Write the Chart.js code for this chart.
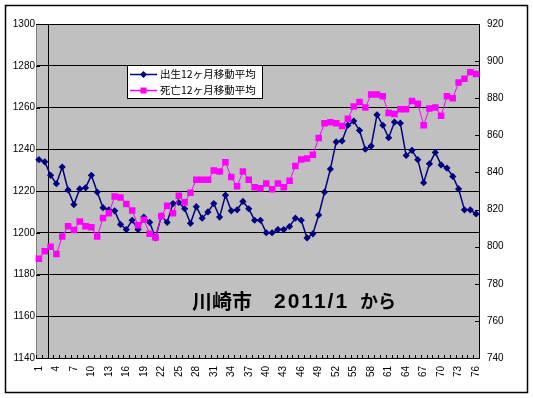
<!DOCTYPE html>
<html><head><meta charset="utf-8">
<script src="https://cdn.jsdelivr.net/npm/chart.js@4"></script>
<style>html,body{margin:0;padding:0;background:#fff}#w{width:533px;height:398px}</style>
</head><body><div id="w"><canvas id="c" width="533" height="398"></canvas></div>
<script>
const categories = ['1','2','3','4','5','6','7','8','9','10','11','12','13','14','15','16','17','18','19','20','21','22','23','24','25','26','27','28','29','30','31','32','33','34','35','36','37','38','39','40','41','42','43','44','45','46','47','48','49','50','51','52','53','54','55','56','57','58','59','60','61','62','63','64','65','66','67','68','69','70','71','72','73','74','75','76'];
const xTickLabels = ['1','4','7','10','13','16','19','22','25','28','31','34','37','40','43','46','49','52','55','58','61','64','67','70','73','76'];
const birthName = '出生12ヶ月移動平均';
const deathName = '死亡12ヶ月移動平均';
const births = [1235,1234,1227.5,1223.5,1231.5,1220.5,1213.5,1221,1221.5,1227.5,1219.5,1212,1211,1210.5,1204,1201.5,1206,1201.5,1207.5,1205,1197.5,1208,1205,1214,1214.5,1211.5,1204.5,1212.5,1207,1210,1214,1207.5,1218,1210.5,1211,1215,1211.5,1206,1206,1200,1200,1201.5,1201.5,1203,1207,1206,1197.5,1199.5,1208.5,1219.5,1230.5,1243.5,1244,1251.5,1253.5,1249,1240,1241.5,1256.5,1251.5,1245.5,1253,1252.5,1237,1239.5,1235,1224,1233,1238.5,1232.5,1231,1227,1221,1211,1211,1209];
const deaths = [793.5,797.5,800,796,805.5,811,809,813.5,811,810.5,805.5,815.5,818,827,826.5,823,819.5,811.5,814.5,807,805,816.5,822,818,827.5,824,829,836,836,836,841,840.5,845.5,837.5,832.5,840.5,836,832,831.5,834,831,834,832,835.5,843.5,847,847.5,849.5,858.5,866.5,867,866.5,865,869,875.5,878,875,882,882,881,872,871.5,874,874,878.5,877,865.5,874.5,875,870.5,881,880,888.5,890.5,894,893];
const leftTicks = {min:1140, max:1300, step:20};
const rightTicks = {min:740, max:920, step:20};
const titleParts = ['川崎市', '2011/1', 'から'];

const NAVY = '#000080', PINK = '#FF00FF';

const decor = {
  id: 'decor',
  beforeDraw(chart) {
    const {ctx, chartArea: a} = chart;
    ctx.save();
    ctx.fillStyle = '#fff';
    ctx.fillRect(0, 0, chart.width, chart.height);
    ctx.strokeStyle = '#000';
    ctx.lineWidth = 1.5;
    ctx.strokeRect(5.5, 5.5, 522, 387);
    ctx.fillStyle = '#C0C0C0';
    ctx.fillRect(a.left, a.top, a.right - a.left, a.bottom - a.top);
    ctx.restore();
  },
  beforeDatasetsDraw(chart) {
    const {ctx, chartArea: a, scales} = chart;
    const xs = scales.x, ys = scales.y, y2 = scales.y2;
    const w = (a.right - a.left) / categories.length;
    ctx.save();
    ctx.strokeStyle = '#000';
    ctx.lineWidth = 1;
    const vx = Math.round(xs.getPixelForValue(2) - w / 2) + 0.5;
    ctx.beginPath(); ctx.moveTo(vx, a.top); ctx.lineTo(vx, a.bottom); ctx.stroke();
    ctx.beginPath();
    for (let i = 0; i <= categories.length; i++) {
      const px = Math.round(a.left + i * w) + 0.5;
      ctx.moveTo(px, a.bottom); ctx.lineTo(px, a.bottom - 3);
    }
    for (let v = leftTicks.min; v <= leftTicks.max; v += leftTicks.step) {
      const py = Math.round(ys.getPixelForValue(v)) + 0.5;
      ctx.moveTo(a.left, py); ctx.lineTo(a.left + 4, py);
    }
    for (let v = rightTicks.min; v <= rightTicks.max; v += rightTicks.step) {
      const py = Math.round(y2.getPixelForValue(v)) + 0.5;
      ctx.moveTo(a.right, py); ctx.lineTo(a.right - 4, py);
    }
    ctx.stroke();
    ctx.restore();
  },
  afterDraw(chart) {
    const {ctx} = chart;
    ctx.save();
    const lx = 127.5, ly = 65.5, lw = 135, lh = 33;
    ctx.fillStyle = '#fff';
    ctx.fillRect(lx, ly, lw, lh);
    ctx.strokeStyle = '#000';
    ctx.lineWidth = 1;
    ctx.strokeRect(lx, ly, lw, lh);
    const ds = chart.data.datasets;
    const rows = [74, 90];
    ds.forEach((d, i) => {
      const y = rows[i] + 0.5;
      ctx.strokeStyle = d.borderColor;
      ctx.lineWidth = 1.5;
      ctx.beginPath(); ctx.moveTo(130, y); ctx.lineTo(157, y); ctx.stroke();
      ctx.fillStyle = d.borderColor;
      ctx.beginPath();
      if (d.pointStyle === 'rectRot') {
        ctx.moveTo(143.5, y - 3.5); ctx.lineTo(147, y); ctx.lineTo(143.5, y + 3.5); ctx.lineTo(140, y); ctx.closePath();
      } else {
        ctx.rect(140.5, y - 3, 6, 6);
      }
      ctx.fill();
      ctx.fillStyle = '#000';
      ctx.font = '10.5px "Noto Sans CJK JP"';
      ctx.textBaseline = 'middle';
      ctx.textAlign = 'left';
      ctx.fillText(d.label, 160, y);
    });
    ctx.fillStyle = '#000';
    ctx.textBaseline = 'middle';
    ctx.textAlign = 'left';
    ctx.font = 'bold 20px "Noto Sans CJK JP"';
    ctx.fillText(titleParts[0], 192, 301);
    ctx.font = 'bold 21px "Liberation Sans"';
    try { ctx.letterSpacing = '2px'; } catch (e) {}
    ctx.fillText(titleParts[1], 274, 302);
    try { ctx.letterSpacing = '0px'; } catch (e) {}
    ctx.font = 'bold 18px "Noto Sans CJK JP"';
    ctx.fillText(titleParts[2], 360, 301);
    ctx.restore();
  }
};

const plainTick = v => String(v);

new Chart(document.getElementById('c'), {
  type: 'line',
  data: {
    labels: categories,
    datasets: [
      {label: birthName, data: births, yAxisID: 'y', borderColor: NAVY, backgroundColor: NAVY,
       borderWidth: 1.5, pointStyle: 'rectRot', pointRadius: 3.6, pointBorderWidth: 0, tension: 0, order: 1},
      {label: deathName, data: deaths, yAxisID: 'y2', borderColor: PINK, backgroundColor: PINK,
       borderWidth: 1, pointStyle: 'rect', pointRadius: 4.6, pointBorderWidth: 0, tension: 0, order: 0}
    ]
  },
  options: {
    responsive: false,
    animation: false,
    events: [],
    layout: {padding: {top: 24, left: 0, right: 0, bottom: 0}},
    plugins: {legend: {display: false}, tooltip: {enabled: false}, title: {display: false}},
    scales: {
      x: {
        type: 'category', offset: true,
        grid: {display: false, drawTicks: false},
        border: {display: true, color: '#000', width: 1},
        ticks: {autoSkip: false, maxRotation: 90, minRotation: 90, padding: 8, color: '#000',
                font: {family: '"Liberation Sans"', size: 10},
                callback: function(v, i) { const l = categories[i]; return xTickLabels.includes(l) ? l : null; }},
        afterFit: s => { s.height = 40; }
      },
      y: {
        position: 'left', min: leftTicks.min, max: leftTicks.max,
        ticks: {stepSize: leftTicks.step, padding: 1, color: '#000', font: {family: '"Liberation Sans"', size: 10}, callback: plainTick},
        grid: {color: '#000', lineWidth: 1, drawTicks: false},
        border: {display: true, color: '#808080', width: 1},
        afterFit: s => { s.width = 36; }
      },
      y2: {
        position: 'right', min: rightTicks.min, max: rightTicks.max,
        ticks: {stepSize: rightTicks.step, padding: 8, color: '#000', font: {family: '"Liberation Sans"', size: 10}, callback: plainTick},
        grid: {display: false, drawTicks: false},
        border: {display: true, color: '#000', width: 1},
        afterFit: s => { s.width = 54; }
      }
    }
  },
  plugins: [decor]
});
</script></body></html>
